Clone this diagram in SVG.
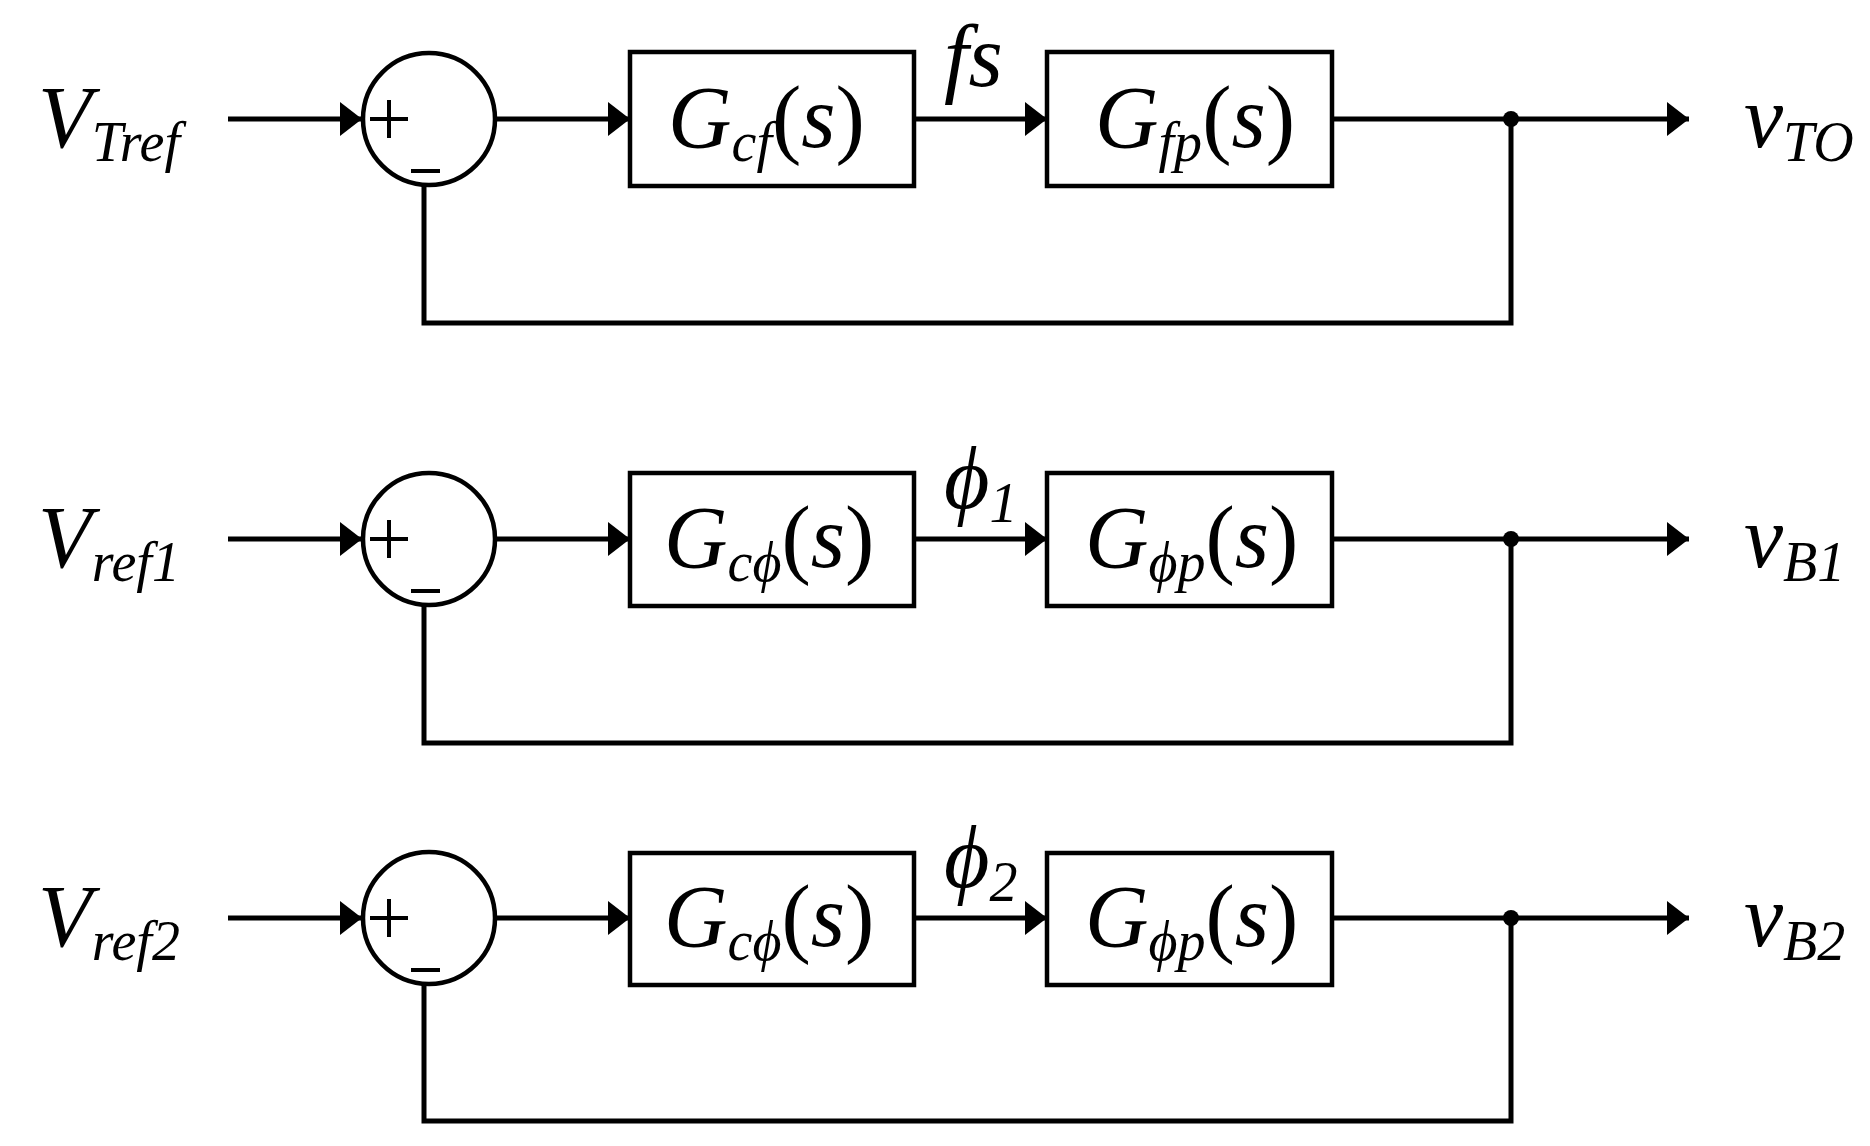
<svg xmlns="http://www.w3.org/2000/svg" width="1870" height="1146" viewBox="0 0 1870 1146">
<style>
.l{stroke:#000;stroke-width:5;fill:none}
.b{stroke:#000;stroke-width:4.5;fill:#fff}
.t{font-family:'Liberation Serif','Times New Roman','DejaVu Serif',serif;font-style:italic;fill:#000}
.u{font-family:'Liberation Serif','Times New Roman','DejaVu Serif',serif;fill:#000}
</style>
<defs>
<marker id="a" markerUnits="userSpaceOnUse" markerWidth="24" markerHeight="34" refX="22" refY="17" orient="auto"><path d="M0,0 L22,17 L0,34 Z" fill="#000"/></marker>
<g id="sum"><circle cx="0" cy="0" r="66" class="b"/><path d="M-59,0 H-21 M-40,-19 V19 M-18,52 H11" stroke="#000" stroke-width="4"/></g>
</defs>
<g id="connectors">
<g id="c1">
<path class="l" d="M228,119 H362" marker-end="url(#a)"/>
<path class="l" d="M495,119 H630" marker-end="url(#a)"/>
<path class="l" d="M914,119 H1047" marker-end="url(#a)"/>
<path class="l" d="M1332,119 H1689" marker-end="url(#a)"/>
<path class="l" d="M1511,119 V323 H424 V185"/>
<circle cx="1511" cy="119" r="8" fill="#000"/>
</g>
<g id="c2">
<path class="l" d="M228,539 H362" marker-end="url(#a)"/>
<path class="l" d="M495,539 H630" marker-end="url(#a)"/>
<path class="l" d="M914,539 H1047" marker-end="url(#a)"/>
<path class="l" d="M1332,539 H1689" marker-end="url(#a)"/>
<path class="l" d="M1511,539 V743 H424 V605"/>
<circle cx="1511" cy="539" r="8" fill="#000"/>
</g>
<g id="c3">
<path class="l" d="M228,918 H362" marker-end="url(#a)"/>
<path class="l" d="M495,918 H630" marker-end="url(#a)"/>
<path class="l" d="M914,918 H1047" marker-end="url(#a)"/>
<path class="l" d="M1332,918 H1689" marker-end="url(#a)"/>
<path class="l" d="M1511,918 V1121 H424 V984"/>
<circle cx="1511" cy="918" r="8" fill="#000"/>
</g>
</g>
<g id="row1">
<g id="in1"><text class="t" x="38" y="147" font-size="88">V<tspan font-size="56" dy="14">Tref</tspan></text></g>
<g id="sum1"><use href="#sum" x="429" y="119"/></g>
<g id="gcf"><rect class="b" x="630" y="52" width="284" height="134"/><text x="668" y="147" font-size="88"><tspan class="t">G</tspan><tspan class="t" font-size="56" dy="14">cf</tspan><tspan class="u" dy="-14">(</tspan><tspan class="t">s</tspan><tspan class="u">)</tspan></text></g>
<g id="fs"><text class="t" x="944" y="86" font-size="88">fs</text></g>
<g id="gfp"><rect class="b" x="1047" y="52" width="285" height="134"/><text x="1095" y="147" font-size="88"><tspan class="t">G</tspan><tspan class="t" font-size="56" dy="14">fp</tspan><tspan class="u" dy="-14">(</tspan><tspan class="t">s</tspan><tspan class="u">)</tspan></text></g>
<g id="out1"><text class="t" x="1744" y="147" font-size="88">v<tspan font-size="56" dy="14">TO</tspan></text></g>
</g>
<g id="row2">
<g id="in2"><text class="t" x="38" y="567" font-size="88">V<tspan font-size="56" dy="14">ref1</tspan></text></g>
<g id="sum2"><use href="#sum" x="429" y="539"/></g>
<g id="gcphi1"><rect class="b" x="630" y="473" width="284" height="133"/><text x="664" y="567" font-size="88"><tspan class="t">G</tspan><tspan class="t" font-size="56" dy="14">cϕ</tspan><tspan class="u" dy="-14">(</tspan><tspan class="t">s</tspan><tspan class="u">)</tspan></text></g>
<g id="phi1"><text class="t" x="944" y="508" font-size="88">ϕ<tspan font-size="56" dy="14">1</tspan></text></g>
<g id="gphip1"><rect class="b" x="1047" y="473" width="285" height="133"/><text x="1085" y="567" font-size="88"><tspan class="t">G</tspan><tspan class="t" font-size="56" dy="14">ϕp</tspan><tspan class="u" dy="-14">(</tspan><tspan class="t">s</tspan><tspan class="u">)</tspan></text></g>
<g id="out2"><text class="t" x="1744" y="567" font-size="88">v<tspan font-size="56" dy="14">B1</tspan></text></g>
</g>
<g id="row3">
<g id="in3"><text class="t" x="38" y="946" font-size="88">V<tspan font-size="56" dy="14">ref2</tspan></text></g>
<g id="sum3"><use href="#sum" x="429" y="918"/></g>
<g id="gcphi2"><rect class="b" x="630" y="853" width="284" height="132"/><text x="664" y="946" font-size="88"><tspan class="t">G</tspan><tspan class="t" font-size="56" dy="14">cϕ</tspan><tspan class="u" dy="-14">(</tspan><tspan class="t">s</tspan><tspan class="u">)</tspan></text></g>
<g id="phi2"><text class="t" x="944" y="887" font-size="88">ϕ<tspan font-size="56" dy="14">2</tspan></text></g>
<g id="gphip2"><rect class="b" x="1047" y="853" width="285" height="132"/><text x="1085" y="946" font-size="88"><tspan class="t">G</tspan><tspan class="t" font-size="56" dy="14">ϕp</tspan><tspan class="u" dy="-14">(</tspan><tspan class="t">s</tspan><tspan class="u">)</tspan></text></g>
<g id="out3"><text class="t" x="1744" y="946" font-size="88">v<tspan font-size="56" dy="14">B2</tspan></text></g>
</g>
</svg>
